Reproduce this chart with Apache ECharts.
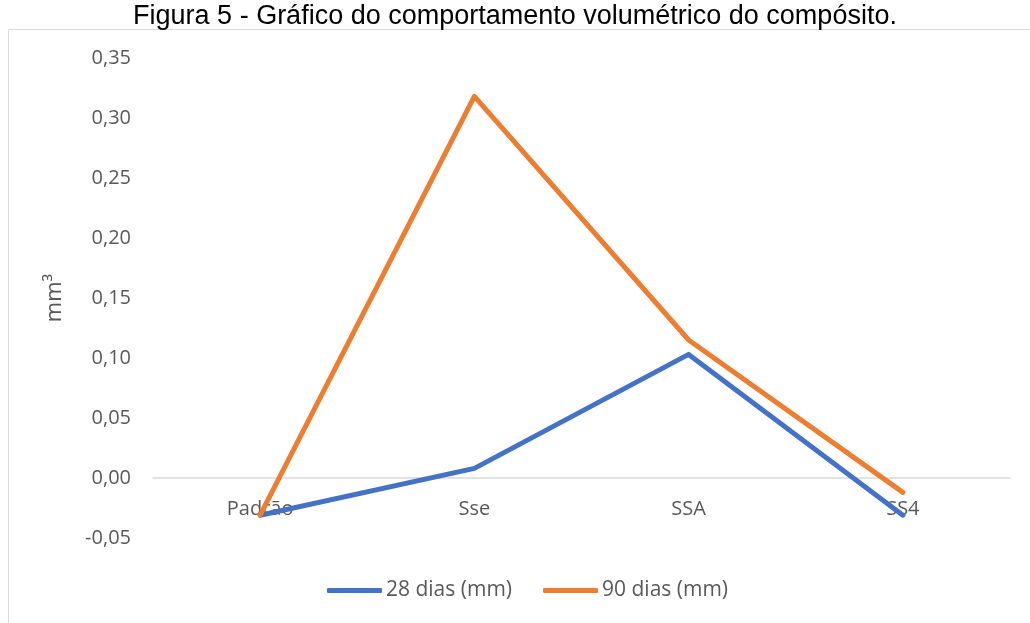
<!DOCTYPE html>
<html>
<head>
<meta charset="utf-8">
<script src="https://cdn.jsdelivr.net/npm/echarts@6/dist/echarts.min.js"></script>
<style>
html,body{margin:0;padding:0;background:#fff;}
#c{width:1030px;height:623px;}
</style>
</head>
<body>
<div id="c"></div>
<script>
var categories = ['Padrão', 'Sse', 'SSA', 'SS4'];
var dias28 = [-0.031, 0.008, 0.103, -0.031];
var dias90 = [-0.031, 0.318, 0.115, -0.012];
var seriesNames = ['28 dias (mm)', '90 dias (mm)'];
var titleText = 'Figura 5 - Gráfico do comportamento volumétrico do compósito.';
var yAxisName = 'mm³';

var chart = echarts.init(document.getElementById('c'));
var font = '"Open Sans", Lato, sans-serif';
chart.setOption({
  animation: false,
  title: {
    text: titleText,
    left: 'center',
    top: -2,
    textStyle: {fontFamily: 'Liberation Sans, Arial, sans-serif', fontWeight: 'normal', fontSize: 27, color: '#000'}
  },
  graphic: [{
    type: 'rect',
    shape: {x: 8.5, y: 29.5, width: 1100, height: 700},
    style: {fill: 'none', stroke: '#d9d9d9', lineWidth: 1},
    silent: true
  }],
  grid: {left: 153, right: 20, top: 58, bottom: 85, containLabel: false},
  legend: {
    bottom: 17,
    left: 322,
    icon: 'roundRect',
    itemWidth: 55,
    itemHeight: 5,
    itemGap: 31,
    textStyle: {fontFamily: font, fontSize: 21, color: '#595959', padding: [0, 0, 0, -1]},
    data: seriesNames
  },
  xAxis: {
    type: 'category',
    data: categories,
    boundaryGap: true,
    axisLine: {onZero: true, lineStyle: {color: '#d9d9d9', width: 1.5}},
    axisTick: {show: false},
    axisLabel: {fontFamily: font, fontSize: 20, color: '#595959', margin: -39}
  },
  yAxis: {
    type: 'value',
    min: -0.05,
    max: 0.35,
    interval: 0.05,
    name: yAxisName,
    nameLocation: 'middle',
    nameGap: 87,
    nameTextStyle: {fontFamily: font, fontSize: 22, color: '#595959'},
    axisLine: {show: false},
    axisTick: {show: false},
    splitLine: {show: false},
    axisLabel: {
      fontFamily: font, fontSize: 20, color: '#595959', margin: 22,
      formatter: function (v) { return v.toFixed(2).replace('.', ','); }
    }
  },
  series: [
    {
      name: seriesNames[0], type: 'line', data: dias28, symbol: 'none',
      lineStyle: {color: '#4472C4', width: 5, cap: 'round', join: 'round'},
      itemStyle: {color: '#4472C4'}
    },
    {
      name: seriesNames[1], type: 'line', data: dias90, symbol: 'none',
      lineStyle: {color: '#ED7D31', width: 5, cap: 'round', join: 'round'},
      itemStyle: {color: '#ED7D31'}
    }
  ]
});
</script>
</body>
</html>
